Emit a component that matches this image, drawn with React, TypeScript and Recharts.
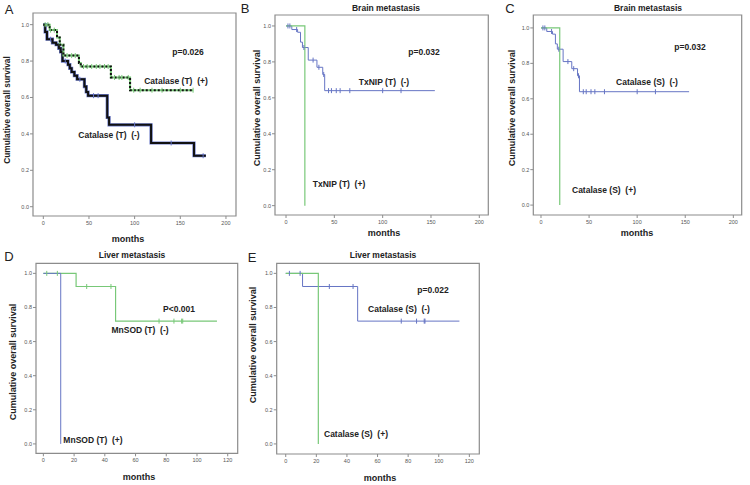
import React from "react";
import { ComposedChart, Line, Scatter, XAxis, YAxis, ReferenceArea } from "recharts";

const FONT = '"Liberation Sans", Arial, sans-serif';
const BLUE = "#6675c4";
const GREEN = "#78c878";
const BOX = "#8c8c8c";

const survTicks = [0, 0.2, 0.4, 0.6, 0.8, 1.0];
const months200 = [0, 50, 100, 150, 200];
const months120 = [0, 20, 40, 60, 80, 100, 120];

// A - Catalase (T), all patients
const aPosTimes = [0, 7, 15, 18, 22, 39, 41, 74, 95];
const aPosSurv = [1, 0.97, 0.93, 0.89, 0.83, 0.79, 0.77, 0.71, 0.64];
const aPosEnd = 164;
const aPosCens = [2, 5, 8, 12, 26, 31, 35, 44, 48, 53, 58, 62, 67, 71, 78, 83, 86, 93, 99, 106, 119, 130, 150, 164];
const aNegTimes = [0, 2, 4, 10, 14, 17, 19, 21, 27, 29, 31, 34, 37, 45, 47, 49, 70, 72, 118, 165];
const aNegSurv = [1, 0.96, 0.92, 0.9, 0.89, 0.87, 0.85, 0.8, 0.78, 0.76, 0.74, 0.72, 0.7, 0.66, 0.63, 0.61, 0.49, 0.45, 0.35, 0.28];
const aNegEnd = 178;
const aNegCens = [8, 24, 40, 55, 60, 100, 140, 175];

// B / C - brain metastasis
const brainNegTimes = [0, 6, 12, 15, 17, 23, 32, 38, 40];
const brainNegSurv = [1, 0.98, 0.965, 0.91, 0.88, 0.81, 0.77, 0.73, 0.64];
const brainNegEnd = 154;
const brainNegCens = [2, 4, 11, 18.5, 28, 34, 39, 44, 47, 52, 56, 66, 100, 119];
const brainPosTimes = [0, 19.5];
const brainPosSurv = [1, 0];

// D / E - liver metastasis
const liverNegTimes = [0, 11, 47];
const liverNegSurv = [1, 0.923, 0.72];
const liverNegEnd = 113.5;
const liverNegCens = [2.4, 9.4, 28.5, 44, 75.5, 85.5, 90.5, 91];
const mnsodNegTimes = [0, 21.3, 47];
const mnsodNegSurv = [1, 0.923, 0.72];
const mnsodNegEnd = 113;
const mnsodNegCens = [2.2, 9.1, 28.2, 44, 75.3, 85, 90, 90.7];
const mnsodPosTimes = [0, 11.3];
const mnsodPosSurv = [1, 0];
const catSPosTimes = [0, 21.3];
const catSPosSurv = [1, 0];

type Pt = { t: number; s: number };

const curve = (times: number[], surv: number[], end?: number): Pt[] => {
  const pts = times.map((t, i) => ({ t, s: surv[i] }));
  if (end !== undefined) pts.push({ t: end, s: surv[surv.length - 1] });
  return pts;
};

// survival at a censoring time
const censored = (cens: number[], times: number[], surv: number[]): Pt[] =>
  cens.map((t) => {
    let s = surv[0];
    times.forEach((tt, i) => {
      if (tt <= t) s = surv[i];
    });
    return { t, s };
  });

const censorTick = (color: string) => (props: any) => {
  const { cx, cy } = props;
  if (cx == null || cy == null) return <g />;
  return <line x1={cx} x2={cx} y1={cy - 2.5} y2={cy + 2.5} stroke={color} strokeWidth={1} />;
};

type LineDef = { data: Pt[]; color: string; width: number; dash?: string };
type MarkDef = { data: Pt[]; color: string };

type PanelProps = {
  left: number;
  top: number;
  width: number;
  height: number;
  yWidth: number;
  mTop: number;
  mRight: number;
  xHeight: number;
  xDomain: [number, number];
  yDomain: [number, number];
  xTicks: number[];
  lines: LineDef[];
  marks: MarkDef[];
};

function KmPanel(p: PanelProps) {
  return (
    <div style={{ position: "absolute", left: p.left, top: p.top }}>
      <ComposedChart
        width={p.width}
        height={p.height}
        margin={{ top: p.mTop, right: p.mRight, bottom: 0, left: 0 }}
      >
        <XAxis
          type="number"
          dataKey="t"
          domain={p.xDomain}
          ticks={p.xTicks}
          allowDataOverflow
          height={p.xHeight}
          axisLine={false}
          tickSize={3}
          tickMargin={2}
          stroke={BOX}
          tick={{ fontSize: 5.5, fill: "#555", fontFamily: FONT }}
        />
        <YAxis
          type="number"
          dataKey="s"
          domain={p.yDomain}
          ticks={survTicks}
          allowDataOverflow
          width={p.yWidth}
          axisLine={false}
          tickSize={3}
          tickMargin={1}
          stroke={BOX}
          tickFormatter={(v: number) => v.toFixed(1)}
          tick={{ fontSize: 5.5, fill: "#555", fontFamily: FONT }}
        />
        <ReferenceArea
          x1={p.xDomain[0]}
          x2={p.xDomain[1]}
          y1={p.yDomain[0]}
          y2={p.yDomain[1]}
          fill="none"
          stroke={BOX}
          strokeWidth={1.2}
          fillOpacity={0}
          strokeOpacity={1}
        />
        {p.lines.map((l, i) => (
          <Line
            key={`l${i}`}
            data={l.data}
            dataKey="s"
            type="stepAfter"
            stroke={l.color}
            strokeWidth={l.width}
            strokeDasharray={l.dash}
            dot={false}
            activeDot={false}
            isAnimationActive={false}
          />
        ))}
        {p.marks.map((m, i) => (
          <Scatter
            key={`m${i}`}
            data={m.data}
            dataKey="s"
            shape={censorTick(m.color)}
            isAnimationActive={false}
          />
        ))}
      </ComposedChart>
    </div>
  );
}

function Txt({
  x,
  y,
  children,
  size = 8.5,
  bold = true,
  rotate = false,
}: {
  x: number;
  y: number;
  children: React.ReactNode;
  size?: number;
  bold?: boolean;
  rotate?: boolean;
}) {
  return (
    <div
      style={{
        position: "absolute",
        left: x,
        top: y,
        transform: `translate(-50%, -50%)${rotate ? " rotate(-90deg)" : ""}`,
        fontFamily: FONT,
        fontSize: size,
        fontWeight: bold ? 700 : 400,
        color: "#222",
        whiteSpace: "pre",
        lineHeight: 1,
      }}
    >
      {children}
    </div>
  );
}

export default function App() {
  const aPos = curve(aPosTimes, aPosSurv, aPosEnd);
  const aNeg = curve(aNegTimes, aNegSurv, aNegEnd);
  const brainNeg = curve(brainNegTimes, brainNegSurv, brainNegEnd);
  const brainPos = curve(brainPosTimes, brainPosSurv);
  const mnsodNeg = curve(mnsodNegTimes, mnsodNegSurv, mnsodNegEnd);
  const mnsodPos = curve(mnsodPosTimes, mnsodPosSurv);
  const liverNeg = curve(liverNegTimes, liverNegSurv, liverNegEnd);
  const catSPos = curve(catSPosTimes, catSPosSurv);

  return (
    <div
      style={{
        position: "absolute",
        left: 0,
        top: 0,
        width: 750,
        height: 485,
        background: "#fff",
        overflow: "hidden",
      }}
    >
      {/* A */}
      <KmPanel
        left={0}
        top={0}
        width={245}
        height={232}
        yWidth={33}
        mTop={13}
        mRight={9}
        xHeight={16}
        xDomain={[-11.3, 211]}
        yDomain={[-0.051, 1.064]}
        xTicks={months200}
        lines={[
          { data: aNeg, color: BLUE, width: 3.2 },
          { data: aNeg, color: "#111", width: 2 },
          { data: aPos, color: GREEN, width: 2 },
          { data: aPos, color: "#111", width: 2, dash: "2 2" },
        ]}
        marks={[
          { data: censored(aPosCens, aPosTimes, aPosSurv), color: GREEN },
          { data: censored(aNegCens, aNegTimes, aNegSurv), color: BLUE },
        ]}
      />
      <Txt x={9} y={9} size={13} bold={false}>A</Txt>
      <Txt x={7} y={110} size={8.3} rotate>Cumulative overall survival</Txt>
      <Txt x={128} y={239} size={9}>months</Txt>
      <Txt x={188} y={52}>p=0.026</Txt>
      <Txt x={176} y={80.5}>{"Catalase (T)  (+)"}</Txt>
      <Txt x={109} y={135}>{"Catalase (T)  (-)"}</Txt>

      {/* B */}
      <KmPanel
        left={245}
        top={0}
        width={250}
        height={232}
        yWidth={30}
        mTop={15}
        mRight={6.7}
        xHeight={17}
        xDomain={[-11.4, 209.3]}
        yDomain={[-0.052, 1.061]}
        xTicks={months200}
        lines={[
          { data: brainNeg, color: BLUE, width: 1 },
          { data: brainPos, color: GREEN, width: 1.2 },
        ]}
        marks={[{ data: censored(brainNegCens, brainNegTimes, brainNegSurv), color: BLUE }]}
      />
      <Txt x={245} y={8} size={13} bold={false}>B</Txt>
      <Txt x={386} y={8}>Brain metastasis</Txt>
      <Txt x={257} y={107.5} size={9} rotate>Cumulative overall survival</Txt>
      <Txt x={384} y={233} size={9}>months</Txt>
      <Txt x={424} y={52}>p=0.032</Txt>
      <Txt x={384} y={82}>{"TxNIP (T)  (-)"}</Txt>
      <Txt x={339} y={184}>{"TxNIP (T)  (+)"}</Txt>

      {/* C */}
      <KmPanel
        left={500}
        top={0}
        width={250}
        height={232}
        yWidth={33.3}
        mTop={15}
        mRight={8.3}
        xHeight={17}
        xDomain={[-8, 208.7]}
        yDomain={[-0.056, 1.073]}
        xTicks={months200}
        lines={[
          { data: brainNeg, color: BLUE, width: 1 },
          { data: brainPos, color: GREEN, width: 1.2 },
        ]}
        marks={[{ data: censored(brainNegCens, brainNegTimes, brainNegSurv), color: BLUE }]}
      />
      <Txt x={510} y={8} size={13} bold={false}>C</Txt>
      <Txt x={648} y={8}>Brain metastasis</Txt>
      <Txt x={512} y={107.5} size={9} rotate>Cumulative overall survival</Txt>
      <Txt x={637} y={233} size={9}>months</Txt>
      <Txt x={690} y={47}>p=0.032</Txt>
      <Txt x={647} y={82}>{"Catalase (S)  (-)"}</Txt>
      <Txt x={604} y={190}>{"Catalase (S)  (+)"}</Txt>

      {/* D */}
      <KmPanel
        left={0}
        top={245}
        width={245}
        height={230}
        yWidth={36}
        mTop={18.3}
        mRight={7.3}
        xHeight={21.7}
        xDomain={[-4.8, 126.5]}
        yDomain={[-0.055, 1.059]}
        xTicks={months120}
        lines={[
          { data: mnsodNeg, color: GREEN, width: 1.2 },
          { data: mnsodPos, color: BLUE, width: 1 },
        ]}
        marks={[{ data: censored(mnsodNegCens, mnsodNegTimes, mnsodNegSurv), color: GREEN }]}
      />
      <Txt x={9} y={256} size={13} bold={false}>D</Txt>
      <Txt x={132} y={255}>Liver metastasis</Txt>
      <Txt x={13} y={362} size={9} rotate>Cumulative overall survival</Txt>
      <Txt x={139} y={477} size={9}>months</Txt>
      <Txt x={179} y={309}>P&lt;0.001</Txt>
      <Txt x={140} y={330}>{"MnSOD (T)  (-)"}</Txt>
      <Txt x={93} y={440}>{"MnSOD (T)  (+)"}</Txt>

      {/* E */}
      <KmPanel
        left={245}
        top={245}
        width={250}
        height={230}
        yWidth={31.7}
        mTop={18.3}
        mRight={15.7}
        xHeight={21}
        xDomain={[-5.9, 126.5]}
        yDomain={[-0.059, 1.059]}
        xTicks={months120}
        lines={[
          { data: liverNeg, color: BLUE, width: 1 },
          { data: catSPos, color: GREEN, width: 1.2 },
        ]}
        marks={[{ data: censored(liverNegCens, liverNegTimes, liverNegSurv), color: BLUE }]}
      />
      <Txt x={252} y={257} size={13} bold={false}>E</Txt>
      <Txt x={383} y={255}>Liver metastasis</Txt>
      <Txt x={253} y={345} size={9} rotate>Cumulative overall survival</Txt>
      <Txt x={380} y={478} size={9}>months</Txt>
      <Txt x={433} y={290}>p=0.022</Txt>
      <Txt x={399} y={309}>{"Catalase (S)  (-)"}</Txt>
      <Txt x={356} y={434}>{"Catalase (S)  (+)"}</Txt>
    </div>
  );
}
